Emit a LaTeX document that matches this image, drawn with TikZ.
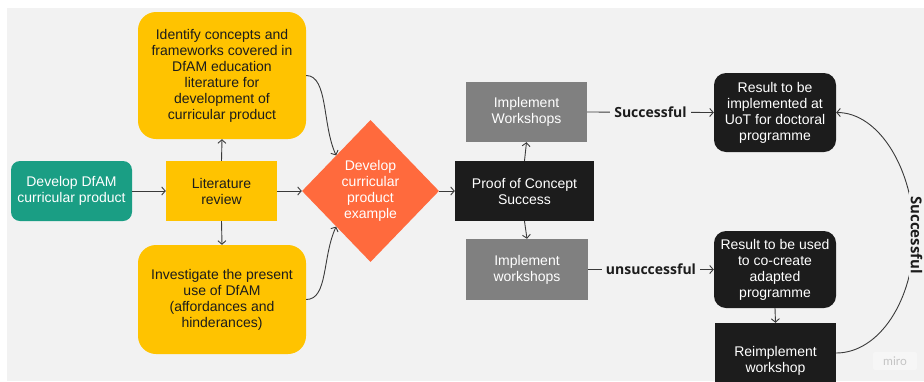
\documentclass[tikz,border=0pt]{standalone}
\usepackage{fontspec}
\setmainfont{Liberation Sans}
\newfontfamily\lblfont{Open Sans}
\newfontfamily\brandfont{Lato}
\usetikzlibrary{shapes.geometric,arrows.meta}

\definecolor{bg}{HTML}{F2F2F2}
\definecolor{teal}{HTML}{1A9E84}
\definecolor{amber}{HTML}{FFC300}
\definecolor{flame}{HTML}{FF6A3D}
\definecolor{slate}{HTML}{808080}
\definecolor{ink}{HTML}{1C1C1C}
\definecolor{wire}{HTML}{3A3A3A}
\definecolor{brandtxt}{HTML}{C4C4C4}
\definecolor{brandbg}{HTML}{F6F6F6}

\begin{document}
\begin{tikzpicture}[x=1pt,y=-1pt,
  txt/.style={font=\fontsize{14}{16}\selectfont, align=center, inner sep=0pt},
  tealbox/.style={txt, fill=teal, text=white, rounded corners=9pt},
  ambersq/.style={txt, fill=amber, text=ink},
  amberround/.style={txt, fill=amber, text=ink, rounded corners=18pt},
  flamediamond/.style={txt, diamond, fill=flame, text=white},
  slatebox/.style={txt, fill=slate, text=white},
  inkbox/.style={txt, fill=ink, text=white},
  inkround/.style={txt, fill=ink, text=white, rounded corners=12pt},
  conn/.style={draw=wire, line width=0.9pt, -{Straight Barb[length=3.5pt,width=8pt]}},
  lbl/.style={fill=bg, inner xsep=4pt, inner ysep=2pt, text=ink,
    font=\lblfont\bfseries\fontsize{14}{16}\selectfont}
]
\useasboundingbox (0,0) rectangle (924,381);
\clip (0,0) rectangle (924,381);
\fill[white] (0,0) rectangle (924,381);
\fill[bg] (7,8) rectangle (924,381);

% left column
\node[tealbox, minimum width=121pt, minimum height=60pt] (dev) at (71.5,191)
  {Develop DfAM\\curricular product};
\node[ambersq, minimum width=111pt, minimum height=60pt] (lit) at (221.5,191)
  {Literature\\review};
\node[amberround, minimum width=168pt, minimum height=127pt] (ident) at (222,75.5)
  {Identify concepts and\\frameworks covered in\\DfAM education\\literature for\\development of\\curricular product};
\node[amberround, minimum width=168pt, minimum height=109pt] (invest) at (222,299.5)
  {Investigate the present\\use of DfAM\\(affordances and\\hinderances)};
\node[flamediamond, minimum width=137pt, minimum height=142pt] (diam) at (370.5,191)
  {Develop\\curricular\\product\\example};

% middle column
\node[inkbox, minimum width=139pt, minimum height=60pt] (proof) at (524.5,191)
  {Proof of Concept\\Success};
\node[slatebox, minimum width=121pt, minimum height=60pt] (impT) at (526.5,112)
  {Implement\\Workshops};
\node[slatebox, minimum width=122pt, minimum height=61pt] (impB) at (527,269.5)
  {Implement\\workshops};

% right column
\node[inkround, minimum width=122pt, minimum height=79pt] (resT) at (775,112.5)
  {Result to be\\implemented at\\UoT for doctoral\\programme};
\node[inkround, minimum width=122pt, minimum height=77pt] (resB) at (775,269.5)
  {Result to be used\\to co-create\\adapted\\programme};
\node[inkbox, minimum width=121pt, minimum height=76pt] (reimp) at (775.5,361)
  {Reimplement\\workshop};

% connectors
\draw[conn] (dev.east) -- (lit.west);
\draw[conn] (lit.east) -- (diam.west);
\draw[conn] (lit.north) -- (ident.south);
\draw[conn] (lit.south) -- (invest.north);
\draw[conn] (ident.east) .. controls +(22,0) and +(-14,-30) .. (diam.north west);
\draw[conn] (invest.east) .. controls +(22,0) and +(-14,30) .. (diam.south west);
\draw[conn] (diam.east) -- (proof.west);
\draw[conn] (proof.north) -- (impT.south);
\draw[conn] (proof.south) -- (impB.north);
\draw[conn] (impT.east) -- node[lbl] {Successful} (resT.west);
\draw[conn] (impB.east) -- node[lbl] {unsuccessful} (resB.west);
\draw[conn] (resB.south) -- (reimp.north);
\coordinate (loop) at (914,235);
\draw[conn] ([yshift=8pt]reimp.east) .. controls +(43,0) and +(0,65) .. (loop)
  .. controls +(0,-65) and +(43,0) .. (resT.east);
\node[lbl, rotate=-90, font=\lblfont\bfseries\fontsize{15}{16}\selectfont] (loopl) at (916.5,235) {Successful};

% brand mark
\node[fill=brandbg, text=brandtxt, rounded corners=2pt, minimum width=44pt, minimum height=18pt,
  inner sep=0pt, font=\brandfont\fontsize{12}{12}\selectfont] (brand) at (895,361) {miro};
\end{tikzpicture}
\end{document}
